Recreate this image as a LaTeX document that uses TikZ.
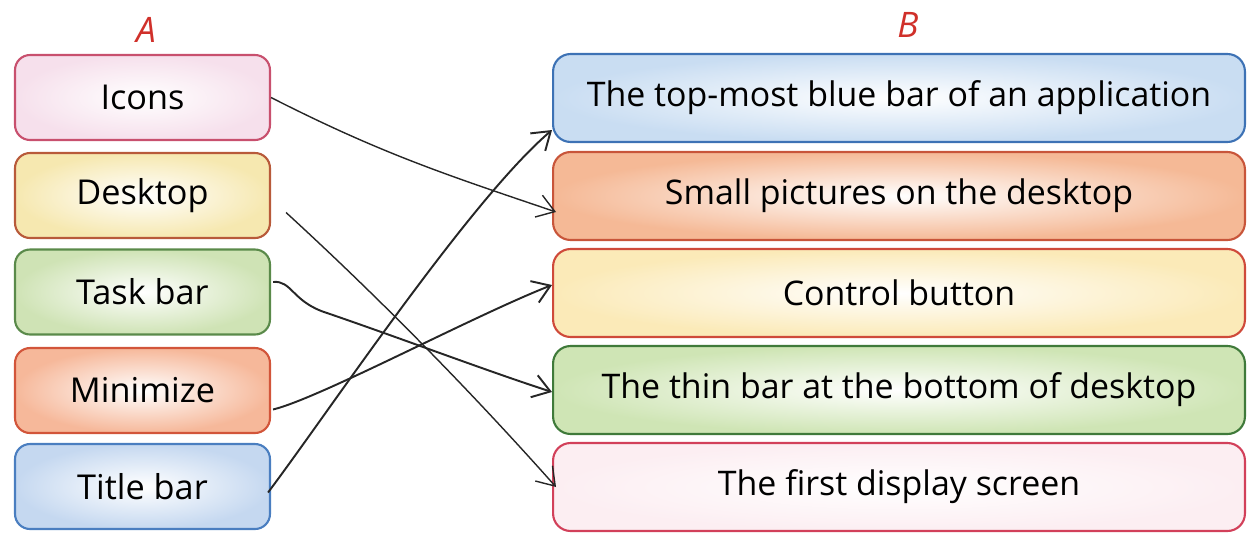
\documentclass[tikz,border=0pt]{standalone}
\usepackage{fontspec}
\setmainfont{Open Sans}
\usetikzlibrary{arrows.meta,calc}
\definecolor{hdrred}{HTML}{D0302A}
\definecolor{icB}{HTML}{C8506E}\definecolor{icF}{HTML}{F6E0EC}
\definecolor{deB}{HTML}{B85A3A}\definecolor{deF}{HTML}{F6E8B0}
\definecolor{taB}{HTML}{5A8A4A}\definecolor{taF}{HTML}{CFE3B5}
\definecolor{miB}{HTML}{D2553A}\definecolor{miF}{HTML}{F6B89A}
\definecolor{tiB}{HTML}{4A7EC0}\definecolor{tiF}{HTML}{C5D8F0}
\definecolor{aB}{HTML}{3D72B5}\definecolor{aF}{HTML}{C9DDF2}
\definecolor{bB}{HTML}{C8553A}\definecolor{bF}{HTML}{F5B996}
\definecolor{cB}{HTML}{CF4A3A}\definecolor{cF}{HTML}{FBEAB8}
\definecolor{dB}{HTML}{3F7A3A}\definecolor{dF}{HTML}{CFE5B5}
\definecolor{eB}{HTML}{D2405A}\definecolor{eF}{HTML}{FCEEF2}
\begin{document}
\begin{tikzpicture}[x=0.02cm,y=-0.02cm,
  lbox/.style={draw, rounded corners=0.3cm, minimum width=5.1cm, minimum height=1.7cm,
    line width=1.2pt, font=\fontsize{19.5}{22}\selectfont, inner color=white},
  rbox/.style={draw, rounded corners=0.35cm, minimum width=13.84cm, minimum height=1.76cm,
    line width=1.2pt, font=\fontsize{19.3}{22}\selectfont, inner color=white},
  conn/.style={line width=1.1pt, draw=black!85, -{Straight Barb[length=0.34cm,width=0.46cm]}},
  hdr/.style={text=hdrred, font=\fontsize{20}{24}\selectfont\itshape}]
\useasboundingbox (0,0) rectangle (1250,534);
% headers
\node[hdr] (ha) at (146,30) {A};
\node[hdr] (hb) at (908,25) {B};
% column A
\node[lbox, draw=icB, outer color=icF] (icons) at (142.5,97.5) {Icons};
\node[lbox, draw=deB, outer color=deF] (desk) at (142.5,195.5) {Desktop};
\node[lbox, draw=taB, outer color=taF] (task) at (142.5,292) {Task bar};
\node[lbox, draw=miB, outer color=miF] (mini) at (142.5,390.5) {Minimize};
\node[lbox, draw=tiB, outer color=tiF] (title) at (142.5,486.5) {Title bar};
% column B
\node[rbox, draw=aB, outer color=aF] (b1) at (899,98) {The top-most blue bar of an application};
\node[rbox, draw=bB, outer color=bF] (b2) at (899,196) {Small pictures on the desktop};
\node[rbox, draw=cB, outer color=cF] (b3) at (899,293) {Control button};
\node[rbox, draw=dB, outer color=dF] (b4) at (899,390) {The thin bar at the bottom of desktop};
\node[rbox, draw=eB, outer color=eF] (b5) at (899,487) {The first display screen};
% connectors
\draw[conn, line width=0.8pt] (icons.east) .. controls (382,154) and (447,175) .. ([shift={(4,16)}]b2.west);
\draw[conn, line width=0.8pt] ([shift={(15,17)}]desk.east) .. controls (375,294) and (467,387) .. ([shift={(4,0)}]b5.west);
\draw[conn] ([shift={(2,-10)}]task.east) .. controls (292,280) and (292,302) .. (327,313)
   .. controls (400,338) and (490,372) .. ([shift={(0,2)}]b4.west);
\draw[conn] ([shift={(2,19)}]mini.east) .. controls (320,398) and (473,316) .. ([shift={(0,-8)}]b3.west);
\draw[conn] ([shift={(-3,6)}]title.east) .. controls (330,410) and (470,200) .. ([shift={(0,32)}]b1.west);
\end{tikzpicture}
\end{document}
